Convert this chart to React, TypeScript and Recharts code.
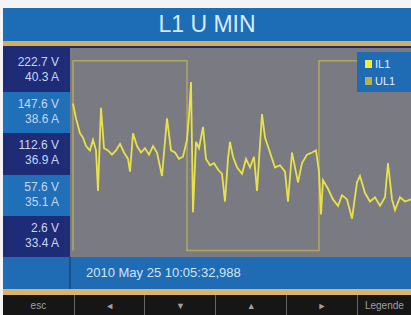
import { LineChart, Line, XAxis, YAxis } from 'recharts'

const TITLE = 'L1 U MIN'
const U_LABELS = ['222.7 V', '147.6 V', '112.6 V', '57.6 V', '2.6 V']
const I_LABELS = ['40.3 A', '38.6 A', '36.9 A', '35.1 A', '33.4 A']
const TIMESTAMP = '2010 May 25 10:05:32,988'
const BUTTONS = ['esc', '◄', '▼', '▲', '►', 'Legende']
const SERIES = ['IL1', 'UL1']

// IL1 trace, sample position / level (0..100 of plot height)
const IL1_T = [3, 6, 10, 13, 16, 20, 23, 26, 28, 31, 34, 38, 42, 46, 50, 54, 58, 60, 63, 67, 71, 75, 79, 83, 87, 92, 97, 101, 105, 109, 113, 117, 119, 121, 123, 126, 129, 133, 136, 140, 144, 148, 152, 155, 158, 160, 163, 167, 172, 176, 180, 184, 187, 192, 195, 200, 205, 210, 215, 218, 222, 225, 228, 232, 237, 242, 246, 249, 251, 253, 258, 263, 268, 272, 277, 282, 287, 290, 295, 300, 305, 310, 315, 318, 322, 325, 330, 335, 341]
const IL1_V = [74, 67, 60, 58, 54, 52, 57, 52, 33, 72, 53, 52, 50, 52, 55, 51, 48, 42, 60, 54, 51, 53, 50, 54, 51, 40, 67, 52, 51, 48, 49, 57, 68, 84, 23, 56, 53, 63, 48, 45, 46, 43, 41, 28, 48, 56, 49, 44, 41, 48, 44, 49, 33, 69, 58, 51, 44, 45, 42, 28, 51, 44, 37, 46, 50, 51, 52, 42, 22, 38, 34, 29, 26, 31, 29, 20, 37, 40, 32, 28, 30, 26, 30, 46, 29, 24, 30, 28, 29]

// UL1 step trace
const UL1_T = [3, 3, 117, 117, 249, 249, 341]
const UL1_V = [5, 94, 94, 5, 5, 94, 94]

const il1 = IL1_T.map((t, i) => ({ t, v: IL1_V[i] }))
const ul1 = UL1_T.map((t, i) => ({ t, v: UL1_V[i] }))

const COLORS: Record<string, string> = { IL1: '#e8e24a', UL1: '#b0a85e' }
const FONT = '"Liberation Sans", Arial, sans-serif'

export default function App() {
  return (
    <div style={{ position: 'absolute', left: 0, top: 0, width: 411, height: 315, background: '#f4f4f4', overflow: 'hidden', fontFamily: FONT }}>
      <div style={{ position: 'absolute', left: 3, top: 8, width: 408, height: 33, background: '#1d6db6', color: '#d6ebff', fontSize: 23, textAlign: 'center', lineHeight: '33px' }}>
        {TITLE}
      </div>
      <div style={{ position: 'absolute', left: 3, top: 41, width: 408, height: 5, background: '#d6ad5c' }} />
      <div style={{ position: 'absolute', left: 3, top: 46, width: 408, height: 4, background: '#1c2c6e' }} />

      {U_LABELS.map((u, i) => (
        <div key={u} style={{ position: 'absolute', left: 3, top: 50 + i * 41.6, width: 67, height: 42, background: i % 2 ? '#1f70b8' : '#1e2c78', color: '#c8d6f4', fontSize: 12, textAlign: 'right', boxSizing: 'border-box', paddingRight: 11, paddingTop: 5, lineHeight: '15px' }}>
          <div>{u}</div>
          <div>{I_LABELS[i]}</div>
        </div>
      ))}

      <div style={{ position: 'absolute', left: 70, top: 48, width: 341, height: 209, background: '#7a7a82' }}>
        <LineChart width={341} height={209} margin={{ top: 0, right: 0, bottom: 0, left: 0 }}>
          <XAxis type="number" dataKey="t" domain={[0, 341]} hide />
          <YAxis type="number" domain={[2, 100]} hide />
          <Line data={ul1} dataKey="v" name="UL1" type="linear" stroke={COLORS.UL1} strokeWidth={1.5} dot={false} isAnimationActive={false} />
          <Line data={il1} dataKey="v" name="IL1" type="linear" stroke={COLORS.IL1} strokeWidth={1.8} dot={false} isAnimationActive={false} />
        </LineChart>
        <div style={{ position: 'absolute', top: 4, right: 0, width: 54, background: '#1f6cb4', padding: '3px 0 3px 8px', boxSizing: 'border-box' }}>
          {SERIES.map((s) => (
            <div key={s} style={{ display: 'flex', alignItems: 'center', height: 17 }}>
              <span style={{ width: 7, height: 8, background: s === 'IL1' ? '#f2ec3a' : '#b8b04e', marginRight: 3 }} />
              <span style={{ color: '#e6eefc', fontSize: 11 }}>{s}</span>
            </div>
          ))}
        </div>
      </div>

      <div style={{ position: 'absolute', left: 3, top: 257, width: 408, height: 32, background: '#1f6cb4' }} />
      <div style={{ position: 'absolute', left: 69, top: 257, width: 2, height: 32, background: '#1a4f8a' }} />
      <div style={{ position: 'absolute', left: 86, top: 257, height: 32, lineHeight: '32px', color: '#d2e4fa', fontSize: 13 }}>
        {TIMESTAMP}
      </div>
      <div style={{ position: 'absolute', left: 3, top: 289, width: 408, height: 6, background: '#d9b36a' }} />
      <div style={{ position: 'absolute', left: 3, top: 295, width: 408, height: 20, background: '#161616', display: 'flex' }}>
        {BUTTONS.map((b, i) => (
          <div key={b} style={{ width: i === 5 ? 56 : 73, height: 20, borderLeft: i ? '1px solid #666' : 'none', color: '#a0a0a0', fontSize: b.length > 1 ? 10 : 9, textAlign: 'center', lineHeight: '22px', boxSizing: 'border-box' }}>
            {b}
          </div>
        ))}
      </div>
    </div>
  )
}
